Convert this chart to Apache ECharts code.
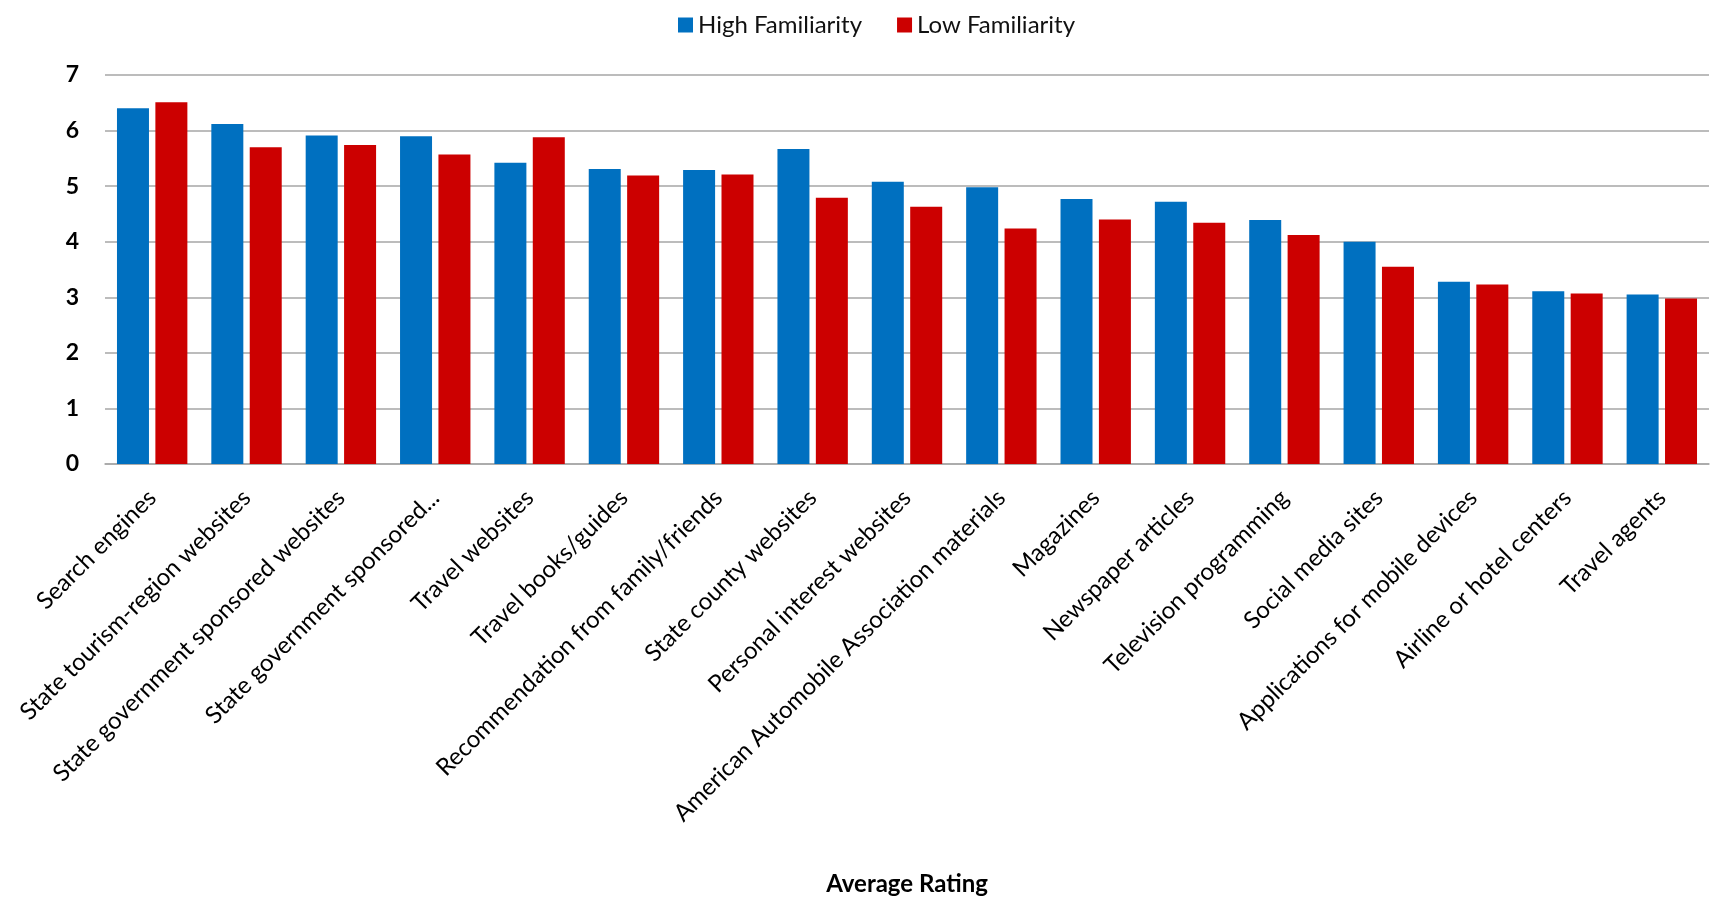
<!DOCTYPE html>
<html>
<head>
<meta charset="utf-8">
<script src="https://cdn.jsdelivr.net/npm/echarts@6/dist/echarts.min.js"></script>
<style>
html,body{margin:0;padding:0;background:#fff;}
#chart{width:1712px;height:897px;}
</style>
</head>
<body>
<div id="chart"></div>
<script>
const categories = [
  "Search engines",
  "State tourism-region websites",
  "State government sponsored websites",
  "State government sponsored...",
  "Travel websites",
  "Travel books/guides",
  "Recommendation from family/friends",
  "State county websites",
  "Personal interest websites",
  "American Automobile Association materials",
  "Magazines",
  "Newspaper articles",
  "Television programming",
  "Social media sites",
  "Applications for mobile devices",
  "Airline or hotel centers",
  "Travel agents"
];
const highFamiliarity = [6.40, 6.12, 5.91, 5.90, 5.42, 5.31, 5.29, 5.67, 5.08, 4.98, 4.77, 4.72, 4.39, 4.00, 3.28, 3.11, 3.05];
const lowFamiliarity  = [6.51, 5.70, 5.74, 5.57, 5.88, 5.19, 5.21, 4.79, 4.63, 4.24, 4.40, 4.34, 4.12, 3.55, 3.23, 3.07, 2.98];
const yTicks = [0, 1, 2, 3, 4, 5, 6, 7];

const FONT = 'Lato, "Open Sans", sans-serif';
const chart = echarts.init(document.getElementById('chart'), null, {renderer: 'canvas'});
chart.setOption({
  animation: false,
  backgroundColor: '#ffffff',
  textStyle: {fontFamily: FONT},
  legend: {
    left: 673, top: 8,
    itemWidth: 15, itemHeight: 15, itemGap: 35,
    icon: 'rect',
    textStyle: {fontFamily: FONT, fontSize: 24, color: '#111'},
    data: ['High Familiarity', 'Low Familiarity']
  },
  grid: {left: 105, right: 3, top: 75, bottom: 433, containLabel: false, outerBoundsMode: 'none'},
  xAxis: {
    type: 'category',
    data: categories,
    name: 'Average Rating',
    nameLocation: 'middle',
    nameGap: 408,
    nameTextStyle: {fontFamily: FONT, fontSize: 24, fontWeight: 'bold', color: '#000'},
    axisLine: {show: true, lineStyle: {color: '#a6a6a6', width: 1.5}},
    axisTick: {show: false},
    axisLabel: {
      interval: 0, rotate: 45, margin: 30,
      fontFamily: FONT, fontSize: 24, color: '#000'
    }
  },
  yAxis: {
    type: 'value',
    min: yTicks[0], max: yTicks[yTicks.length - 1], interval: 1,
    axisLine: {show: false},
    axisTick: {show: false},
    axisLabel: {margin: 26, fontFamily: FONT, fontSize: 23, fontWeight: 'bold', color: '#000'},
    splitLine: {lineStyle: {color: '#a6a6a6', width: 1.5}}
  },
  series: [
    {name: 'High Familiarity', type: 'bar', data: highFamiliarity, barWidth: 32, barGap: '20%',
     itemStyle: {color: '#0070C0'}},
    {name: 'Low Familiarity', type: 'bar', data: lowFamiliarity, barWidth: 32, barGap: '20%',
     itemStyle: {color: '#CC0000'}}
  ]
});
</script>
</body>
</html>
